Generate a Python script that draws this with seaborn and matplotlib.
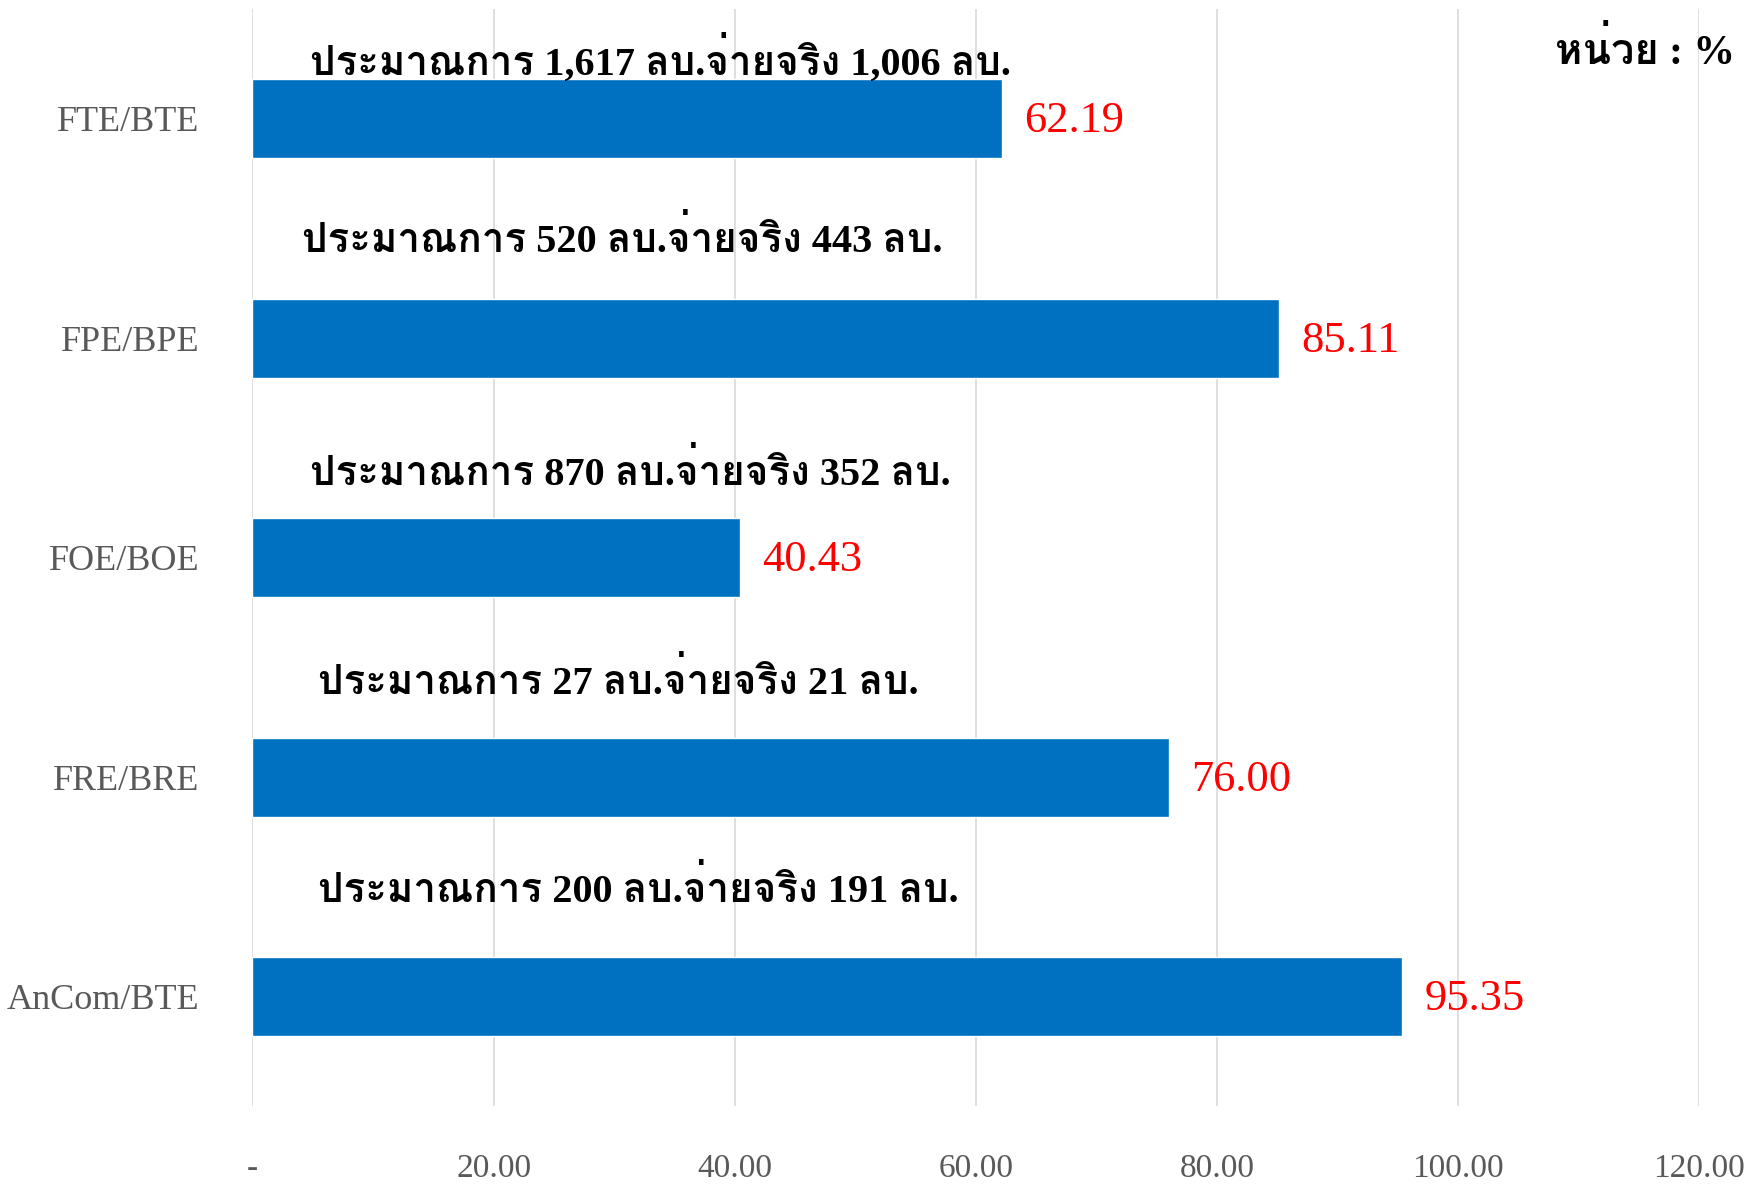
import matplotlib
matplotlib.use('Agg')
import matplotlib.pyplot as plt
from matplotlib import font_manager
from matplotlib.ft2font import FT2Font
import seaborn as sns
import pandas as pd

# ข้อมูล
categories = ['FTE/BTE', 'FPE/BPE', 'FOE/BOE', 'FRE/BRE', 'AnCom/BTE']
percent = [62.19, 85.11, 40.43, 76.00, 95.35]
budget = ['1,617', '520', '870', '27', '200']
paid = ['1,006', '443', '352', '21', '191']
x_ticks = [0, 20, 40, 60, 80, 100, 120]
x_tick_labels = ['-', '20.00', '40.00', '60.00', '80.00', '100.00', '120.00']

# หา font ที่มีอักษรไทย
thai_font = None
for f in font_manager.fontManager.ttflist:
    try:
        if 0x0E1B in FT2Font(f.fname).get_charmap():
            thai_font = f.name
            if f.weight in ('bold', 700):
                break
    except Exception:
        pass
families = ['Liberation Serif'] + ([thai_font] if thai_font else []) + ['DejaVu Sans']

sns.set_theme(style='white')
plt.rcParams['font.family'] = families

df = pd.DataFrame({'cat': categories, 'pct': percent})

fig = plt.figure(figsize=(17.58, 11.91), dpi=100)
ax = fig.add_axes([0.1436, 0.071, 0.823, 0.9215])

sns.barplot(data=df, x='pct', y='cat', color='#0070C0', saturation=1,
            width=0.36, ax=ax, zorder=3)

ax.set_xlim(0, 120)
ax.set_ylim(4.5, -0.5)
ax.set_xticks(x_ticks)
ax.set_xticklabels(x_tick_labels)
ax.grid(axis='x', color='#d9d9d9', linewidth=1.2, zorder=0)
ax.grid(axis='y', visible=False)
for s in ax.spines.values():
    s.set_visible(False)
ax.set_xlabel('')
ax.set_ylabel('')
ax.tick_params(axis='x', length=0, pad=34, labelsize=24, labelcolor='#595959')
ax.tick_params(axis='y', length=0, pad=38, labelsize=26, labelcolor='#595959')

# ป้ายค่าเปอร์เซ็นต์
for i, v in enumerate(percent):
    ax.annotate(f'{v:.2f}', (v, i), xytext=(16, -2), textcoords='offset points',
                va='center', ha='left', color='red', fontsize=32)

# ข้อความประมาณการ / จ่ายจริง
text_x = [4.8, 4.1, 4.8, 5.4, 5.4]
text_dy = [-0.27, -0.45, -0.39, -0.435, -0.49]
for i in range(len(categories)):
    ax.text(text_x[i], i + text_dy[i],
            f'ประมาณการ {budget[i]} ลบ.จ่ายจริง {paid[i]} ลบ.',
            va='center', ha='left', fontsize=29, fontweight='bold', color='black')

fig.text(0.987, 0.957, 'หน่วย : %', ha='right', va='center',
         fontsize=30, fontweight='bold', color='black')

plt.savefig('out.png', dpi=100)
